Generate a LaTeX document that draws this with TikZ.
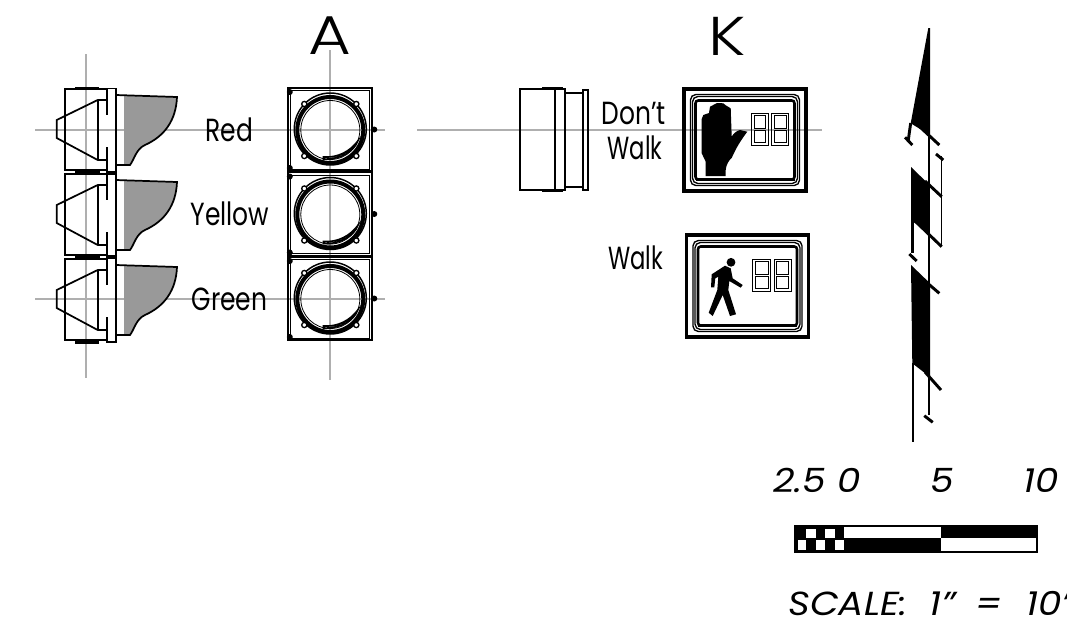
\documentclass[tikz,border=0pt]{standalone}
\usepackage{fontspec}
\setmainfont{Poppins}
\newfontfamily\thinfont{Poppins Light}
\tikzset{
  center line/.style={color={rgb, 255:red, 175; green, 175; blue, 175},line width=0.9pt},
  body line/.style={line width=1.3pt},
  thin line/.style={line width=0.6pt},
  heavy line/.style={line width=2.2pt},
  label text/.style={inner sep=0pt,font=\fontsize{24}{24}\selectfont,xscale=0.78},
  walk text/.style={inner sep=0pt,font=\fontsize{24}{24}\selectfont,xscale=0.71},
  big text/.style={inner sep=0pt,font=\thinfont\fontsize{41}{41}\selectfont,xscale=1.2},
  scale text/.style={inner sep=0pt,font=\itshape\fontsize{25}{25}\selectfont,xscale=1.12},
}
\begin{document}
\begin{tikzpicture}[x=0.75pt,y=0.75pt,yscale=-1,xscale=1]
\useasboundingbox (0,0) rectangle (1067,622);

%Center Lines
\draw [center line] (35,130) -- (385,130) ;
\draw [center line] (35,299) -- (385,299) ;
\draw [center line] (86,54) -- (86,378) ;
\draw [center line] (330,50) -- (330,380) ;
\draw [center line] (417,130) -- (822,130) ;

%Signal Side View
\foreach \yy in {0,85,170} {
  \begin{scope}[shift={(0,\yy)}]
  \fill [fill={rgb, 255:red, 153; green, 153; blue, 153}] (124,96) -- (177,97) .. controls (176,120) and (165,136) .. (145,145) .. controls (136,149) and (134,160) .. (130,165) -- (124,165) -- cycle ;
  \draw [body line] (115.7,95) -- (177,97) .. controls (176,120) and (165,136) .. (145,145) .. controls (136,149) and (134,160) .. (130,165) -- (115.7,165) ;
  \draw [body line] (107,89) -- (65,89) -- (65,170) -- (107,170) ;
  \draw [body line] (107,88.5) -- (115.7,88.5) -- (115.7,172) -- (107,172) -- (107,147) ;
  \draw [body line] (107,88.5) -- (107,115) ;
  \draw [body line] (107,100) -- (97.7,100) -- (56.7,120) -- (56.7,138) -- (97.7,160) -- (107,160) ;
  \draw [body line] (97.7,100) -- (97.7,160) ;
  \end{scope}
}
\draw [heavy line] (75,88.5) -- (99,88.5) ;
\draw [heavy line] (75,342.5) -- (99,342.5) ;
\draw [line width=2.6pt] (75,173) -- (100,173) (108,173) -- (115,173) ;
\draw [line width=2.6pt] (75,257) -- (100,257) (108,257) -- (115,257) ;

%Signal Front View
\foreach \yy in {130,214.5,299} {
  \begin{scope}[shift={(330.3,\yy)}]
  \draw [body line] (-42,-42) rectangle (42,41) ;
  \draw [thin line] (-39.5,-39.5) rectangle (39.5,39) ;
  \draw [line width=3pt] (0,0) circle [radius=33] ;
  \draw [thin line] (0,0) circle [radius=29.5] ;
  \draw [line width=1.1pt] (0,-1) circle [radius=36] ;
  \foreach \sx in {-26,26} {\foreach \sy in {-26,26} {
    \draw [line width=1pt,fill=white] (\sx,\sy) circle [radius=2.6] ;
  }}
  \fill (44,-0.5) circle [radius=3] ;
  \fill (-40.5,-38) circle [radius=3] ;
  \fill (-40.5,38) circle [radius=3] ;
  \draw [line width=1.2pt,fill=white] (-7,27) .. controls (8,28) and (20,21) .. (27.5,11) .. controls (24,21) and (10,30) .. (-7,29) -- cycle ;
  \end{scope}
}

%Pedestrian Side View
\draw [body line] (555,89) -- (520,89) -- (520,190) -- (555,190) ;
\draw [body line] (555,89) rectangle (565,190) ;
\draw [body line] (565,93) -- (583,93) (565,187) -- (583,187) ;
\draw [body line] (583,89.7) rectangle (588,190) ;
\draw [heavy line] (542,88.7) -- (563,88.7) ;
\draw [heavy line] (542,190.3) -- (563,190.3) ;

%Pedestrian Front Views
\foreach \xx/\yy in {684/89,686.5/235} {
  \begin{scope}[shift={(\xx,\yy)}]
  \draw [line width=2.6pt] (0,0) rectangle (122,102) ;
  \draw [line width=1pt,rounded corners=4pt] (6.5,5.5) rectangle (115.5,96.5) ;
  \draw [line width=1pt,rounded corners=4pt] (8.5,7.5) rectangle (113.5,94.5) ;
  \draw [line width=1.9pt,rounded corners=2pt] (11.5,11.5) rectangle (110.5,90.5) ;
  \draw [line width=2.6pt] (11.5,90.5) -- (110.5,90.5) ;
  \draw [line width=1.5pt] (39,-1) -- (65,-1) ;
  \end{scope}
}

%Hand Shape
\fill (705.7,176) -- (725.7,176) -- (725.7,170) .. controls (726,165) and (729,160) .. (731.7,158) .. controls (736,148) and (741,140) .. (747.3,131.7) -- (740,130) .. controls (736,131) and (733,134) .. (731.7,136.7) -- (730.7,108.3) -- (726,105.5) -- (723.3,103.3) -- (717,103) -- (710,106.7) -- (709,113) -- (703.3,115) -- (701.7,119) -- (701.7,153.3) -- (705.7,161.7) -- cycle ;

%Walk Shape
\fill (731,262.3) circle [radius=4.4] ;
\fill (725,265.7) -- (730.7,268.3) -- (732.7,278.3) -- (742.7,285) -- (740.7,287.7) -- (729.3,281) -- (728.3,290) -- (736,314.3) -- (730,316) -- (722.7,295) -- (712.7,316) -- (708.7,312.7) -- (717.3,290) -- (718.3,276.7) -- (715.3,278.3) -- (714.3,287.3) -- (711,287.3) -- (711.7,274.3) -- cycle ;

%Digit Outlines
\foreach \xx/\yy/\ww/\hh in {751.7/113.3/16.6/32,771.7/113.3/17/32,752.7/259/18/32,774/259/17/32} {
  \draw [thin line] (\xx,\yy) rectangle ++(\ww,\hh) ;
  \draw [thin line] (\xx+2.5,\yy+2.5) rectangle (\xx+\ww-2.5,\yy+\hh*0.5-1) ;
  \draw [thin line] (\xx+2.5,\yy+\hh*0.5+1) rectangle (\xx+\ww-2.5,\yy+\hh-2.5) ;
}

%Section Shapes
\fill (928.3,28) -- (910.7,123.3) -- (930,135) -- (930,28) -- cycle ;
\fill (911,167) -- (929.5,185) -- (929.5,234) -- (911,220) -- cycle ;
\fill (911,265) -- (930,283.3) -- (930,377) -- (912.3,363.3) -- cycle ;
\draw [body line] (929,133) -- (929,415) ;
\draw [body line] (941.5,156) -- (941.5,246) ;
\draw [heavy line] (910.7,123) -- (908.3,140) ;
\draw [heavy line] (912.7,220) -- (912.7,253) ;
\draw [body line] (913.3,363) -- (913.3,442) ;
\draw [heavy line] (905,137.3) -- (912.3,145) ;
\draw [heavy line] (914.3,121.7) -- (939.3,145) ;
\draw [heavy line] (936,154) -- (943.3,160) ;
\draw [heavy line] (925,181) -- (941.7,196.7) ;
\draw [heavy line] (914,220) -- (941.7,246.7) ;
\draw [heavy line] (909.3,254) -- (916.7,261) ;
\draw [heavy line] (925,281) -- (939.3,293.3) ;
\draw [heavy line] (925,372) -- (941,390) ;
\draw [heavy line] (924.3,415.7) -- (932.7,422.3) ;

%Scale Bar
\fill (795,526) rectangle (844.3,538.3) ;
\fill (941,526) rectangle (1037.3,538.3) ;
\fill (844.3,538.3) rectangle (941,551.7) ;
\fill [white] (805.7,528.5) rectangle (815.7,538) ;
\fill [white] (825.3,528.5) rectangle (835,538) ;
\fill (795,538.3) rectangle (844.3,551.7) ;
\fill [white] (797.5,539.5) rectangle (805.7,549.5) ;
\fill [white] (815.7,539.5) rectangle (825.3,549.5) ;
\fill [white] (835,539.5) rectangle (844.3,549.5) ;
\draw [body line] (795,526) rectangle (1037.3,551.7) ;

% Text Node
\node (signalA) [big text] at (330,36) {A};
\node (pedK) [big text] at (727,36) {K};
\node (red) [label text] at (229.5,129.5) {Red};
\node (yellow) [label text] at (230,214) {Yellow};
\node (green) [label text] at (229.5,299) {Green};
\node (dont) [label text] at (633.5,113) {Don't};
\node (dontwalk) [walk text] at (635,148) {Walk};
\node (walk) [walk text] at (635.5,258) {Walk};
\node (tickA) [scale text,anchor=west] at (773,480) {2.5 0};
\node (tickB) [scale text] at (942,480) {5};
\node (tickC) [scale text] at (1041,480) {10};
\node (scaleNote) [scale text,anchor=west] at (788,604) {SCALE:\ \ 1"\hspace{6pt}\ =\hspace{1pt}\ \ 10'};

\end{tikzpicture}
\end{document}
